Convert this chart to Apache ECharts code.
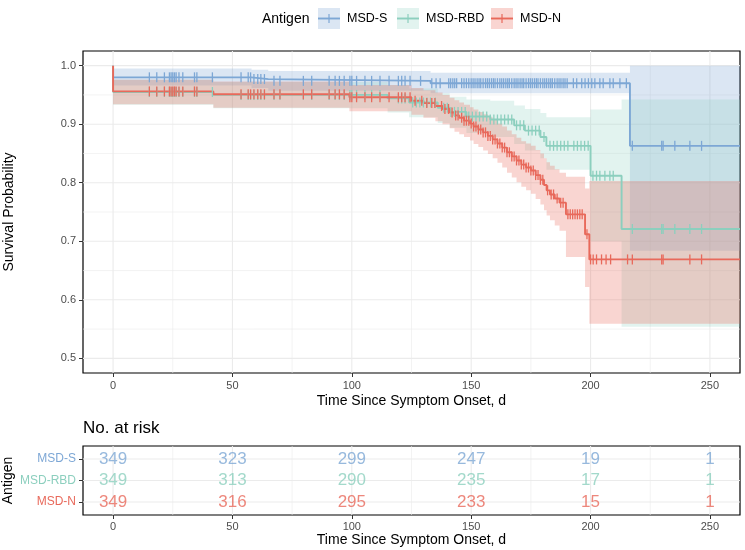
<!DOCTYPE html>
<html><head><meta charset="utf-8">
<script src="https://cdn.jsdelivr.net/npm/echarts@6/dist/echarts.min.js"></script>
<style>html,body{margin:0;padding:0;background:#fff}#c{width:745px;height:550px}</style>
</head><body><div id="c"></div>
<script>
// ---------- data ----------
const groups = ['MSD-S', 'MSD-RBD', 'MSD-N'];
const colors = ['#7DA7D5', '#8CCFBE', '#E8695B'];
const bandColors = ['rgba(125,167,213,0.28)', 'rgba(140,207,190,0.25)', 'rgba(232,105,91,0.28)'];
const followUpEnd = 262.6;

// MSD-S
const sTimes = [0, 0, 58, 65, 133, 216.5];
const sSurv  = [1, 0.980, 0.977, 0.974, 0.970, 0.863];
const sUpper = [1, 0.995, 0.993, 0.991, 0.988, 1.000];
const sLower = [1, 0.966, 0.962, 0.957, 0.953, 0.684];
const sCensor = [15.2, 18.3, 21.5, 23.6, 24.3, 25, 25.7, 26.4, 27.6, 29.2, 34.1, 35.1, 41.6, 53.6, 56.6, 57.6, 59, 60.6, 61.9, 63.4, 67.4, 69.9, 79.7, 83.2, 90.5, 93, 94.8, 96.8, 99.2,
  100, 102, 105.5, 108.3, 111.8, 115.6, 119.5, 120.9, 122.3, 124.4, 128.8, 133.5, 135.3, 137, 140.6, 141.4, 142.3, 143.1, 143.9,
  146, 147, 148, 149, 150, 150.8, 151.6, 152.5, 153.3, 154, 155, 156, 156.8, 157.6, 158.5, 159.3, 160, 161, 162, 162.8, 163.6, 164.5, 165.3, 166, 167, 168, 168.8, 169.6, 170.5, 171.3, 172, 173, 174, 174.8, 175.6, 176.5, 177.3, 178, 179, 180, 180.8, 181.6, 182.5, 183.3, 184, 185, 186, 186.8, 187.6, 188.5, 189.3, 190.2,
  192.8, 194.2, 196.3, 197.7, 199.1, 200.5, 201.8, 203.9, 205.3, 208.1, 209.5, 212.3, 215, 217.5, 229.8, 230.4, 235.3, 241.6, 246.5];

// MSD-RBD
const rTimes = [0, 0, 42, 115, 124, 136, 141, 148, 158, 168, 172.5, 179, 181.5, 200, 213];
const rSurv  = [1, 0.955, 0.950, 0.944, 0.937, 0.928, 0.921, 0.913, 0.908, 0.898, 0.889, 0.878, 0.863, 0.812, 0.721];
const rUpper = [1, 0.976, 0.972, 0.967, 0.961, 0.953, 0.947, 0.942, 0.940, 0.932, 0.926, 0.919, 0.912, 0.925, 0.942];
const rLower = [1, 0.933, 0.927, 0.920, 0.912, 0.902, 0.894, 0.885, 0.878, 0.866, 0.855, 0.842, 0.822, 0.700, 0.554];
const rCensor = [15.2, 18.3, 21.5, 23.6, 24.3, 25, 25.7, 26.4, 27.6, 29.2, 34.1, 35.1, 41.6, 53.6, 56.6, 57.6, 59, 60.6, 61.9, 63.4, 67.4, 69.9, 79.7, 83.2, 90.5, 93, 94.8, 96.8, 99.2,
  100, 102, 105.5, 108.3, 111.8, 119.5, 120.9, 122.3, 125.5, 127, 128.5, 130, 131.5, 133, 135, 138.5, 140, 141.5, 143, 144.5, 146, 147.5, 149, 150.5, 152, 153.5, 155, 156.5, 158, 159.5, 161, 162.5, 164, 165.5, 167, 169, 170.5, 172, 174, 175.5, 177, 178.5, 180.5,
  183, 184.5, 186, 187.5, 189, 190.5, 193, 194.5, 196, 197.5, 199, 201, 202.5, 203.9, 206, 208.1, 209.5, 217.5, 229.8, 230.4, 235.3, 241.6, 246.5];

// MSD-N
const nTimes = [0, 0, 42, 99, 125, 130, 135, 138, 141, 143, 145, 147, 149.5, 151, 153, 155, 157, 159, 161, 163, 165, 167, 169, 171, 173, 175, 177, 179, 180.5, 181.6, 183, 185, 187, 189.7, 197.7, 199.5];
const nSurv  = [1, 0.956, 0.951, 0.946, 0.940, 0.936, 0.931, 0.926, 0.920, 0.915, 0.911, 0.906, 0.901, 0.896, 0.891, 0.886, 0.880, 0.874, 0.867, 0.860, 0.852, 0.845, 0.838, 0.831, 0.826, 0.821, 0.813, 0.805, 0.796, 0.787, 0.780, 0.773, 0.766, 0.746, 0.712, 0.669];
const nUpper = [1, 0.976, 0.973, 0.967, 0.962, 0.958, 0.954, 0.950, 0.945, 0.941, 0.937, 0.933, 0.929, 0.925, 0.921, 0.917, 0.912, 0.907, 0.901, 0.896, 0.889, 0.883, 0.877, 0.871, 0.867, 0.863, 0.856, 0.850, 0.842, 0.835, 0.829, 0.823, 0.817, 0.810, 0.790, 0.803];
const nLower = [1, 0.934, 0.928, 0.922, 0.916, 0.911, 0.905, 0.900, 0.893, 0.887, 0.883, 0.878, 0.872, 0.866, 0.861, 0.855, 0.849, 0.842, 0.834, 0.826, 0.817, 0.809, 0.801, 0.793, 0.787, 0.781, 0.772, 0.763, 0.753, 0.744, 0.736, 0.727, 0.718, 0.673, 0.622, 0.559];
const nCensor = [15.2, 18.3, 21.5, 23.6, 24.3, 25, 25.7, 26.4, 27.6, 29.2, 34.1, 35.1, 53.6, 56.6, 57.6, 59, 60.6, 61.9, 63.4, 67.4, 69.9, 79.7, 83.2, 90.5, 93, 94.8, 96.8, 99.2,
  100, 102, 105.5, 108.3, 111.8, 115.6, 119.5, 120.9, 122.3, 124.4, 126.5, 129.3, 131.4, 133.5, 134.8, 137.6, 139, 140.5, 142, 143.5, 144.5, 146, 147, 148, 149, 150, 151, 152, 153, 154, 155, 156, 157, 158, 159, 160, 161, 162, 163, 164, 165, 166, 167, 168, 169, 170, 171, 172, 173, 174, 175, 176, 177, 178, 179, 180,
  182, 183.5, 184.5, 186, 187.5, 188.5, 190.5, 191.5, 192.5, 193.5, 194.5, 195.5, 196.5, 198.5, 200, 201.1, 202.5, 204.6, 206.5, 208.4, 215.5, 217.5, 229.8, 230.4, 241.6, 246.5];

// risk table
const riskTimes = [0, 50, 100, 150, 200, 250];
const riskS   = [349, 323, 299, 247, 19, 1];
const riskRBD = [349, 313, 290, 235, 17, 1];
const riskN   = [349, 316, 295, 233, 15, 1];

// axis ticks / grid
const xTicks = [0, 50, 100, 150, 200, 250];
const xMinor = [25, 75, 125, 175, 225];
const yTicks = [0.5, 0.6, 0.7, 0.8, 0.9, 1.0];
const yMinor = [0.55, 0.65, 0.75, 0.85, 0.95];
const riskRows = [1, 2, 3];

// ---------- helpers ----------
const FONT = '"Liberation Sans", Arial, Helvetica, sans-serif';
function survAt(times, surv, t) {
  let v = surv[0];
  for (let i = 0; i < times.length; i++) if (times[i] <= t) v = surv[i];
  return v;
}
function stepData(times, surv) {
  const d = times.map((t, i) => [t, surv[i]]);
  d.push([followUpEnd, surv[surv.length - 1]]);
  return d;
}
function bandSeries(times, lower, upper, fill) {
  return {
    type: 'custom', xAxisIndex: 0, yAxisIndex: 0, silent: true, z: 2,
    data: [[times[0], upper[0]]],
    renderItem: function (params, api) {
      const up = [], lo = [];
      for (let i = 1; i < times.length; i++) {
        const t0 = times[i], t1 = (i + 1 < times.length) ? times[i + 1] : followUpEnd;
        if (t1 <= t0) continue;
        up.push(api.coord([t0, upper[i]]), api.coord([t1, upper[i]]));
        lo.push(api.coord([t0, lower[i]]), api.coord([t1, lower[i]]));
      }
      return { type: 'polygon', shape: { points: up.concat(lo.reverse()) }, style: { fill: fill } };
    }
  };
}
function gridSeries(idx, hMajor, hMinor, vMajor, vMinor, yRef) {
  const data = [];
  hMajor.forEach(v => data.push([0, v, 1]));
  hMinor.forEach(v => data.push([0, v, 0]));
  vMajor.forEach(v => data.push([1, v, 1]));
  vMinor.forEach(v => data.push([1, v, 0]));
  return {
    type: 'custom', xAxisIndex: idx, yAxisIndex: idx, silent: true, z: 1,
    data: data,
    renderItem: function (params, api) {
      const cs = params.coordSys;
      const kind = api.value(0), v = api.value(1), major = api.value(2);
      let shape;
      if (kind === 0) {
        const y = api.coord([0, v])[1];
        shape = { x1: cs.x, y1: y, x2: cs.x + cs.width, y2: y };
      } else {
        const x = api.coord([v, yRef])[0];
        shape = { x1: x, y1: cs.y, x2: x, y2: cs.y + cs.height };
      }
      return { type: 'line', shape: shape, style: { stroke: '#EBEBEB', lineWidth: major ? 1.1 : 0.6 } };
    }
  };
}
function lineSeries(times, surv, color) {
  return { type: 'line', xAxisIndex: 0, yAxisIndex: 0, step: 'end', showSymbol: false, symbol: 'none', silent: true, z: 3,
    data: stepData(times, surv), lineStyle: { color: color, width: 1.9 } };
}
function censorSeries(times, surv, cens, color) {
  return { type: 'scatter', xAxisIndex: 0, yAxisIndex: 0, silent: true, z: 3, symbol: 'rect', symbolSize: [1.3, 10],
    itemStyle: { color: color, opacity: 1 },
    data: cens.map(t => [t, survAt(times, surv, t)]) };
}
function riskSeries(counts, row, color) {
  return { type: 'scatter', xAxisIndex: 1, yAxisIndex: 1, silent: true, z: 3, symbolSize: 1,
    itemStyle: { color: 'rgba(0,0,0,0)' },
    label: { show: true, position: 'inside', formatter: p => String(p.value[2]), color: color, fontSize: 17, fontFamily: FONT },
    data: riskTimes.map((t, i) => [t, row, counts[i]]) };
}

const axisTickStyle = { show: true, length: 4, lineStyle: { color: '#333', width: 1 } };
const labelStyle = { color: '#4D4D4D', fontSize: 11, fontFamily: FONT };

const option = {
  animation: false,
  textStyle: { fontFamily: FONT },
  title: { text: 'No. at risk', left: 83, top: 420, padding: 0,
    textStyle: { fontSize: 17, fontWeight: 'normal', color: '#000', fontFamily: FONT } },
  grid: [
    { left: 83, top: 51, width: 657, height: 322, show: true, borderColor: '#000', borderWidth: 1.2, backgroundColor: '#fff',
      containLabel: false, outerBoundsMode: 'none' },
    { left: 83, top: 446, width: 657, height: 69, show: true, borderColor: '#000', borderWidth: 1.2, backgroundColor: '#fff',
      containLabel: false, outerBoundsMode: 'none' }
  ],
  xAxis: [
    { type: 'value', gridIndex: 0, min: -12.6, max: 262.6,
      axisLine: { show: false }, splitLine: { show: false },
      axisTick: Object.assign({ customValues: xTicks }, axisTickStyle),
      axisLabel: Object.assign({ customValues: xTicks, margin: 7 }, labelStyle),
      name: 'Time Since Symptom Onset, d', nameLocation: 'middle', nameGap: 21, nameMoveOverlap: false,
      nameTextStyle: { fontSize: 14, color: '#000', fontFamily: FONT } },
    { type: 'value', gridIndex: 1, min: -12.6, max: 262.6,
      axisLine: { show: false }, splitLine: { show: false },
      axisTick: Object.assign({ customValues: xTicks }, axisTickStyle),
      axisLabel: Object.assign({ customValues: xTicks, margin: 6 }, labelStyle),
      name: 'Time Since Symptom Onset, d', nameLocation: 'middle', nameGap: 18, nameMoveOverlap: false,
      nameTextStyle: { fontSize: 14, color: '#000', fontFamily: FONT } }
  ],
  yAxis: [
    { type: 'value', gridIndex: 0, min: 0.475, max: 1.025,
      axisLine: { show: false, onZero: false }, splitLine: { show: false },
      axisTick: Object.assign({ customValues: yTicks }, axisTickStyle),
      axisLabel: Object.assign({ customValues: yTicks, margin: 7, formatter: v => Number(v).toFixed(1) }, labelStyle),
      name: 'Survival Probability', nameLocation: 'middle', nameGap: 67, nameRotate: 90, nameMoveOverlap: false,
      nameTextStyle: { fontSize: 14, color: '#000', fontFamily: FONT } },
    { type: 'value', gridIndex: 1, min: 0.4, max: 3.6, inverse: true,
      axisLine: { show: false, onZero: false }, splitLine: { show: false },
      axisTick: Object.assign({ customValues: riskRows }, axisTickStyle),
      axisLabel: { customValues: riskRows, margin: 7, fontFamily: FONT,
        formatter: v => { const k = Math.round(v) - 1; return '{g' + k + '|' + groups[k] + '}'; },
        rich: { g0: { color: colors[0], fontSize: 12, fontFamily: FONT },
                g1: { color: colors[1], fontSize: 12, fontFamily: FONT },
                g2: { color: colors[2], fontSize: 12, fontFamily: FONT } } },
      name: 'Antigen', nameLocation: 'middle', nameGap: 68, nameRotate: 90, nameMoveOverlap: false,
      nameTextStyle: { fontSize: 14, color: '#000', fontFamily: FONT } }
  ],
  graphic: [],
  series: [
    gridSeries(0, yTicks, yMinor, xTicks, xMinor, 0.75),
    gridSeries(1, riskRows, [], xTicks, xMinor, 2),
    bandSeries(sTimes, sLower, sUpper, bandColors[0]),
    bandSeries(rTimes, rLower, rUpper, bandColors[1]),
    bandSeries(nTimes, nLower, nUpper, bandColors[2]),
    lineSeries(sTimes, sSurv, colors[0]),
    censorSeries(sTimes, sSurv, sCensor, colors[0]),
    lineSeries(rTimes, rSurv, colors[1]),
    censorSeries(rTimes, rSurv, rCensor, colors[1]),
    lineSeries(nTimes, nSurv, colors[2]),
    censorSeries(nTimes, nSurv, nCensor, colors[2]),
    riskSeries(riskS, 1, colors[0]),
    riskSeries(riskRBD, 2, colors[1]),
    riskSeries(riskN, 3, colors[2])
  ]
};

// legend (drawn as graphic elements)
const legendKeysX = [318, 397, 491];
option.graphic.push({ type: 'text', x: 262, y: 19, style: { text: 'Antigen', fontSize: 14, fontFamily: FONT, fill: '#000', verticalAlign: 'middle' } });
groups.forEach((g, i) => {
  const x = legendKeysX[i];
  option.graphic.push({ type: 'rect', shape: { x: x, y: 8, width: 22, height: 21 }, style: { fill: bandColors[i] } });
  option.graphic.push({ type: 'line', shape: { x1: x, y1: 18.5, x2: x + 22, y2: 18.5 }, style: { stroke: colors[i], lineWidth: 1.9 } });
  option.graphic.push({ type: 'line', shape: { x1: x + 11, y1: 14, x2: x + 11, y2: 23 }, style: { stroke: colors[i], lineWidth: 1.2 } });
  option.graphic.push({ type: 'text', x: x + 29, y: 19, style: { text: g, fontSize: 12.5, fontFamily: FONT, fill: '#000', verticalAlign: 'middle' } });
});

const chart = echarts.init(document.getElementById('c'), null, { renderer: 'canvas' });
chart.setOption(option);
</script>
</body></html>
